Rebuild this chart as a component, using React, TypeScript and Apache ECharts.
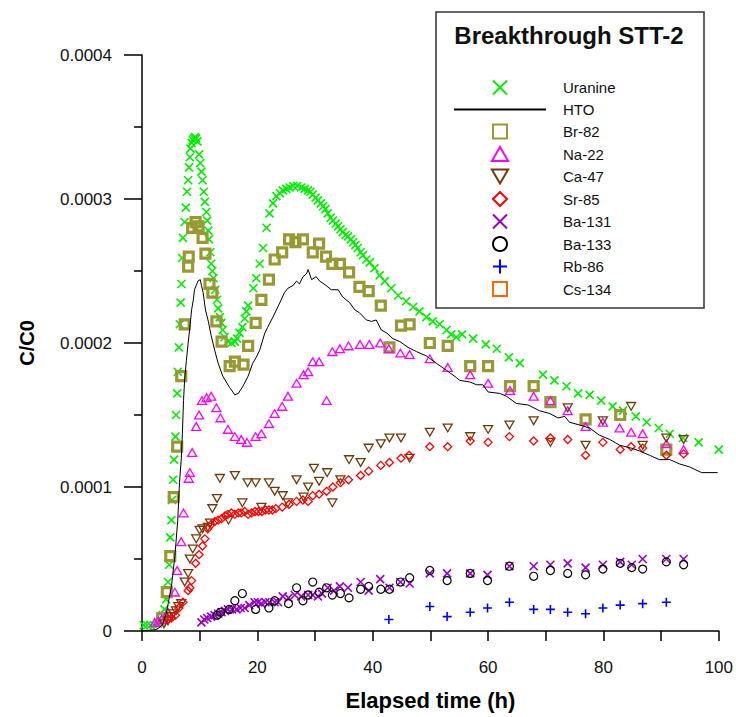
import React, { useEffect, useRef } from "react";
import * as echarts from "echarts";

// Elapsed time (h) and C/C0 in units of 1e-4
const uranine: [number, number][] = [
  [0.3, 0.04], [0.9, 0.04], [1.5, 0.04], [2.1, 0.04], [2.7, 0.05], [3.2, 0.07],
  [3.6, 0.11], [3.9, 0.15], [4.2, 0.22], [4.5, 0.34], [4.7, 0.46], [4.9, 0.65], [5.1, 0.77],
  [5.2, 0.91], [5.4, 1.05], [5.55, 1.19], [5.8, 1.35], [5.9, 1.5], [6.1, 1.65], [6.2, 1.8],
  [6.4, 1.97], [6.55, 2.13], [6.7, 2.28], [6.83, 2.41], [6.95, 2.59], [7.1, 2.73], [7.4, 2.84],
  [7.6, 2.94], [7.8, 3.05], [8.0, 3.13], [8.15, 3.22], [8.3, 3.29], [8.4, 3.35], [8.6, 3.39],
  [8.8, 3.41], [9.0, 3.42], [9.2, 3.43], [9.4, 3.42], [9.6, 3.4],
  [9.9, 3.31], [10.1, 3.25], [10.3, 3.19], [10.5, 3.13], [10.7, 3.05], [10.9, 2.98], [11.15, 2.91],
  [11.3, 2.85], [11.5, 2.78], [11.6, 2.72], [11.85, 2.63], [12.0, 2.55], [12.2, 2.5], [12.4, 2.45],
  [12.7, 2.37], [13.0, 2.3], [13.2, 2.24], [13.5, 2.18], [13.75, 2.14], [14.0, 2.09], [14.3, 2.04],
  [14.9, 2.01], [15.5, 2.0], [16.1, 2.01], [16.5, 2.03], [16.9, 2.07], [17.4, 2.11], [17.8, 2.17],
  [18.1, 2.22], [18.4, 2.26], [19.3, 2.38], [19.8, 2.45], [20.4, 2.55], [21.0, 2.66], [21.6, 2.8],
  [22.1, 2.9], [22.7, 2.97], [23.3, 3.02], [23.9, 3.04], [24.4, 3.06], [25.0, 3.07], [25.6, 3.08],
  [26.2, 3.09], [26.9, 3.09], [27.6, 3.08], [28.2, 3.07], [28.8, 3.06], [29.2, 3.05], [29.6, 3.03],
  [30.1, 3.01], [30.5, 2.99], [31.0, 2.97], [31.4, 2.95], [31.8, 2.93], [32.2, 2.9], [32.7, 2.87],
  [33.1, 2.85], [33.6, 2.83], [34.0, 2.81], [34.4, 2.79], [34.8, 2.77], [35.3, 2.75], [35.7, 2.74],
  [36.2, 2.72], [36.6, 2.7], [37.0, 2.68], [37.4, 2.66], [37.9, 2.63], [38.3, 2.61], [38.9, 2.58],
  [39.5, 2.56], [40.3, 2.52], [41.2, 2.47], [42.1, 2.43], [43.2, 2.38], [44.4, 2.33], [45.8, 2.29],
  [47.0, 2.25], [48.1, 2.22], [49.3, 2.18], [50.4, 2.15], [51.6, 2.13], [52.8, 2.09], [53.6, 2.06],
  [54.5, 2.04], [55.5, 2.06], [57.4, 2.03], [59.6, 1.99], [61.5, 1.96], [63.6, 1.9], [65.5, 1.86],
  [69.5, 1.78], [71.5, 1.74], [73.6, 1.7], [75.6, 1.65], [77.6, 1.64], [79.6, 1.6], [81.6, 1.56],
  [83.4, 1.53], [85.6, 1.49], [87.5, 1.45], [89.6, 1.41], [91.5, 1.37], [93.8, 1.34], [96.5, 1.31],
  [100, 1.26],
];

const hto: [number, number][] = [
  [0, 0], [2.5, 0.01], [3.5, 0.04], [4.2, 0.12], [5.1, 0.31], [5.7, 0.52], [6.2, 0.77], [6.5, 1.03],
  [6.8, 1.19], [7.0, 1.37], [7.2, 1.6], [7.4, 1.75], [7.7, 1.88], [8.0, 2.0], [8.3, 2.11], [8.6, 2.23],
  [8.9, 2.3], [9.1, 2.37], [9.4, 2.4], [9.7, 2.43], [10.1, 2.44], [10.3, 2.4], [10.6, 2.35], [11.0, 2.23],
  [11.5, 2.15], [12.0, 2.05], [12.6, 1.95], [13.2, 1.86], [14.0, 1.77], [15.2, 1.69], [16.1, 1.64],
  [16.7, 1.65], [17.5, 1.7], [18.4, 1.77], [19.2, 1.86], [19.8, 1.9], [20.4, 1.95], [21.3, 2.07],
  [21.8, 2.11], [22.7, 2.18], [23.9, 2.28], [24.7, 2.35], [25.3, 2.38], [26.2, 2.4], [26.8, 2.43],
  [27.3, 2.41], [27.9, 2.46], [28.5, 2.48], [28.8, 2.51], [29.4, 2.44], [30.2, 2.46], [30.8, 2.43],
  [31.9, 2.4], [32.8, 2.37], [34.0, 2.37], [34.8, 2.32], [36.0, 2.28], [36.9, 2.23], [37.7, 2.21],
  [38.9, 2.16], [39.8, 2.15], [40.6, 2.16], [41.5, 2.09], [42.4, 2.07], [43.5, 2.03], [44.7, 2.01],
  [46.1, 1.97], [47.6, 1.94], [49.3, 1.91], [51.0, 1.86], [52.8, 1.81], [54.5, 1.76], [55.1, 1.74],
  [56.8, 1.73], [58.0, 1.71], [59.1, 1.71], [60.0, 1.66], [62.0, 1.65], [63.2, 1.63], [64.9, 1.58],
  [66.9, 1.57], [68.9, 1.53], [70.7, 1.51], [72.1, 1.48], [73.3, 1.49], [74.1, 1.45], [75.9, 1.43],
  [77.6, 1.41], [79.3, 1.36], [81.1, 1.33], [82.8, 1.29], [84.8, 1.27], [86.3, 1.25], [88.0, 1.22],
  [89.7, 1.19], [91.5, 1.19], [93.2, 1.16], [94.9, 1.14], [97.0, 1.1], [99.8, 1.1],
];

const br82: [number, number][] = [
  [3.5, 0.09], [4.3, 0.27], [4.9, 0.52], [5.5, 0.93], [6.1, 1.28], [6.8, 1.77], [7.4, 2.13], [8.0, 2.53],
  [8.1, 2.6], [8.7, 2.8], [9.3, 2.84], [9.8, 2.81], [10.5, 2.73], [11.0, 2.62], [11.7, 2.41], [12.2, 2.35],
  [12.9, 2.15], [13.8, 2.01], [15.2, 1.84], [16.1, 1.87], [17.6, 1.85], [18.4, 1.98], [19.7, 2.14],
  [20.7, 2.3], [22.0, 2.44], [23.0, 2.58], [24.3, 2.63], [25.5, 2.72], [26.6, 2.7], [27.9, 2.72],
  [29.6, 2.63], [30.7, 2.69], [31.9, 2.6], [33.0, 2.55], [34.3, 2.55], [35.9, 2.49], [37.7, 2.39],
  [39.3, 2.36], [41.4, 2.26], [42.9, 1.97], [44.9, 2.12], [46.4, 2.13], [49.9, 2.0], [53.0, 1.98],
  [56.9, 1.84], [60.0, 1.84], [63.8, 1.7], [67.9, 1.7], [70.8, 1.59], [76.9, 1.47], [82.9, 1.5],
  [90.9, 1.26],
];

const na22: [number, number][] = [
  [2.2, 0.06], [2.8, 0.07], [3.4, 0.08], [4.5, 0.13], [5.7, 0.27], [6.1, 0.42], [6.8, 0.62], [7.2, 0.82],
  [8.1, 1.06], [8.3, 1.1], [8.7, 1.24], [9.4, 1.42], [9.9, 1.5], [10.4, 1.6], [11.2, 1.62], [12.0, 1.63],
  [12.9, 1.55], [13.6, 1.48], [14.9, 1.4], [16.1, 1.35], [17.2, 1.33], [18.2, 1.31], [19.7, 1.35],
  [20.7, 1.37], [22.0, 1.44], [23.0, 1.51], [24.3, 1.56], [25.3, 1.63], [26.8, 1.72], [28.0, 1.78],
  [28.8, 1.8], [29.6, 1.87], [30.7, 1.87], [32.0, 1.6], [33.0, 1.94], [34.3, 1.96], [35.8, 1.98],
  [37.8, 1.99], [39.4, 1.99], [41.3, 2.0], [42.8, 1.96], [44.8, 1.93], [46.4, 1.92], [49.9, 1.89],
  [53.0, 1.83], [56.9, 1.78], [60.0, 1.72], [63.8, 1.67], [67.9, 1.63], [70.8, 1.6], [73.8, 1.53],
  [76.9, 1.42], [79.9, 1.45], [82.8, 1.41], [84.8, 1.38], [86.8, 1.37], [90.9, 1.3], [93.9, 1.26],
];

const ca47: [number, number][] = [
  [3.8, 0.05], [4.5, 0.07], [5.1, 0.1], [5.4, 0.12], [5.9, 0.14], [6.3, 0.17], [6.8, 0.19], [7.4, 0.34],
  [8.0, 0.4], [8.3, 0.5], [8.8, 0.57], [9.4, 0.64], [10.0, 0.7], [10.5, 0.71], [11.4, 0.72], [11.8, 0.75],
  [12.2, 0.85], [13.0, 0.92], [13.5, 1.06], [15.0, 0.77], [16.1, 1.08], [17.4, 0.89], [18.3, 1.03],
  [19.7, 1.03], [20.7, 0.86], [22.0, 1.03], [23.0, 0.97], [24.4, 0.94], [25.3, 0.89], [26.8, 1.05],
  [28.0, 0.93], [28.8, 1.0], [29.8, 1.13], [30.7, 1.04], [32.1, 1.1], [33.0, 0.89], [34.4, 1.05],
  [35.9, 1.19], [37.9, 1.17], [39.3, 1.27], [41.4, 1.3], [42.9, 1.34], [44.9, 1.34], [46.4, 1.2],
  [49.9, 1.38], [53.0, 1.41], [56.9, 1.35], [60.0, 1.4], [63.7, 1.43], [67.9, 1.46], [70.8, 1.31],
  [73.8, 1.55], [76.9, 1.29], [79.9, 1.46], [84.8, 1.56], [86.8, 1.29], [90.9, 1.34], [93.9, 1.33],
];

const sr85: [number, number][] = [
  [4.5, 0.08], [5.1, 0.09], [5.8, 0.11], [6.4, 0.16], [7.1, 0.2], [8.0, 0.28], [8.3, 0.3], [8.6, 0.35],
  [9.3, 0.47], [9.9, 0.53], [10.5, 0.59], [10.9, 0.64], [11.4, 0.71], [12.0, 0.74], [12.6, 0.76],
  [13.2, 0.77], [13.8, 0.78], [14.4, 0.8], [14.9, 0.81], [15.5, 0.82], [16.1, 0.81], [16.7, 0.82],
  [17.2, 0.82], [17.8, 0.83], [18.4, 0.81], [19.0, 0.82], [19.6, 0.83], [20.2, 0.83], [20.8, 0.83],
  [21.4, 0.84], [22.0, 0.84], [22.6, 0.84], [23.2, 0.85], [24.3, 0.86], [25.5, 0.88], [26.8, 0.9],
  [27.9, 0.91], [28.8, 0.9], [29.6, 0.94], [30.7, 0.95], [32.0, 0.97], [33.1, 1.0], [34.4, 1.03],
  [35.8, 1.05], [37.9, 1.08], [39.3, 1.11], [41.4, 1.15], [42.9, 1.17], [44.9, 1.2], [46.3, 1.22],
  [49.9, 1.28], [53.0, 1.28], [56.9, 1.32], [60.0, 1.31], [63.7, 1.35], [67.9, 1.32], [70.8, 1.34],
  [73.8, 1.33], [76.9, 1.22], [79.9, 1.31], [82.9, 1.26], [84.8, 1.28], [86.8, 1.27], [90.9, 1.22],
  [93.9, 1.23],
];

const ba131: [number, number][] = [
  [10.3, 0.06], [10.8, 0.08], [11.3, 0.09], [12.0, 0.1], [12.6, 0.11], [13.2, 0.12], [13.8, 0.13],
  [14.4, 0.14], [14.9, 0.15], [15.6, 0.15], [16.4, 0.15], [17.1, 0.16], [17.8, 0.16], [18.6, 0.18],
  [19.5, 0.2], [20.1, 0.2], [20.7, 0.19], [21.4, 0.2], [22.1, 0.2], [23.0, 0.2], [23.6, 0.2],
  [24.4, 0.24], [25.4, 0.23], [26.5, 0.25], [27.6, 0.24], [28.8, 0.25], [29.6, 0.25], [30.5, 0.24],
  [31.2, 0.26], [32.2, 0.3], [33.3, 0.28], [34.3, 0.31], [35.7, 0.3], [37.9, 0.34], [39.3, 0.28],
  [41.3, 0.36], [42.9, 0.3], [44.8, 0.34], [46.4, 0.33], [49.9, 0.4], [52.9, 0.4], [56.9, 0.4],
  [59.9, 0.39], [63.7, 0.45], [67.9, 0.45], [70.8, 0.46], [73.8, 0.47], [76.9, 0.44], [79.9, 0.46],
  [82.9, 0.48], [84.9, 0.46], [86.8, 0.5], [90.9, 0.5], [93.9, 0.5],
];

const ba133: [number, number][] = [
  [13.0, 0.11], [13.6, 0.13], [15.1, 0.15], [16.1, 0.21], [17.4, 0.26], [19.7, 0.15], [22.0, 0.16],
  [23.0, 0.21], [25.4, 0.19], [26.8, 0.3], [27.9, 0.21], [28.8, 0.25], [29.6, 0.34], [30.7, 0.27],
  [32.0, 0.3], [33.0, 0.25], [34.4, 0.26], [35.9, 0.23], [37.9, 0.29], [39.3, 0.31], [41.4, 0.29],
  [42.9, 0.29], [44.8, 0.34], [46.4, 0.37], [49.9, 0.42], [52.9, 0.35], [56.9, 0.4], [59.9, 0.35],
  [63.7, 0.45], [67.9, 0.38], [70.8, 0.42], [73.8, 0.4], [76.9, 0.39], [79.9, 0.43], [82.9, 0.47],
  [84.9, 0.44], [86.8, 0.43], [90.9, 0.48], [93.9, 0.46],
];

const rb86: [number, number][] = [
  [42.8, 0.08], [49.9, 0.17], [52.9, 0.1], [56.9, 0.13], [59.9, 0.16], [63.7, 0.2], [67.9, 0.15],
  [70.8, 0.15], [73.8, 0.13], [76.9, 0.12], [79.9, 0.16], [82.9, 0.18], [86.8, 0.19], [90.9, 0.2],
];

const cs134: [number, number][] = [];

const legendNames = ["Uranine", "HTO", "Br-82", "Na-22", "Ca-47", "Sr-85", "Ba-131", "Ba-133", "Rb-86", "Cs-134"];

const UNIT = 1e-4;
const FONT = "'Liberation Sans', Arial, sans-serif";

const X_SYM = "path://M0,0L10,10M10,0L0,10";
const PLUS_SYM = "path://M5,0L5,10M0,5L10,5";
const TRI_UP = "path://M5,0L10,8.6L0,8.6Z";
const TRI_DOWN = "path://M0,0L10,0L5,8.6Z";
const SQUARE = "path://M0,0L10,0L10,10L0,10Z";
const DIAMOND = "path://M5,0L10,5L5,10L0,5Z";
const CIRCLE = "circle";

const scale = (d: [number, number][]) => d.map(([t, v]) => [t, v * UNIT]);

function scatter(
  name: string,
  data: [number, number][],
  symbol: string,
  size: number,
  color: string,
  fillColor: string,
  borderWidth: number
) {
  return {
    name,
    type: "scatter",
    data: scale(data),
    symbol,
    symbolSize: size,
    symbolKeepAspect: true,
    itemStyle: { color: fillColor, borderColor: color, borderWidth, opacity: 1 },
    emphasis: { disabled: true },
  };
}

export default function App() {
  const ref = useRef<HTMLDivElement>(null);
  useEffect(() => {
    if (!ref.current) return;
    const chart = echarts.init(ref.current, undefined, { renderer: "svg" });
    const clear = "rgba(0,0,0,0)";
    const series: any[] = [
      scatter("Uranine", uranine, X_SYM, 8, "#00ee00", "#00ee00", 1.6),
      {
        name: "HTO",
        type: "line",
        data: scale(hto),
        symbol: "none",
        showSymbol: false,
        lineStyle: { color: "#000", width: 1 },
        itemStyle: { color: clear, borderWidth: 0 },
        emphasis: { disabled: true },
        z: 3,
      },
      scatter("Br-82", br82, SQUARE, 9, "#999933", clear, 3.2),
      scatter("Na-22", na22, TRI_UP, 9, "#ff00ff", clear, 1.3),
      scatter("Ca-47", ca47, TRI_DOWN, 9, "#703a08", clear, 1.3),
      scatter("Sr-85", sr85, DIAMOND, 8, "#ff0000", clear, 1.3),
      scatter("Ba-131", ba131, X_SYM, 8, "#9900cc", "#9900cc", 1.6),
      scatter("Ba-133", ba133, CIRCLE, 8, "#000000", clear, 1.2),
      scatter("Rb-86", rb86, PLUS_SYM, 9, "#0000ff", "#0000ff", 1.6),
      scatter("Cs-134", cs134, SQUARE, 9, "#ff6600", clear, 1.6),
    ];
    chart.setOption({
      animation: false,
      backgroundColor: "#fff",
      textStyle: { fontFamily: FONT },
      grid: { left: 142, right: 14, top: 55, bottom: 86, containLabel: false },
      xAxis: {
        type: "value",
        min: 0,
        max: 100,
        interval: 10,
        name: "Elapsed time (h)",
        nameLocation: "middle",
        nameGap: 58,
        nameTextStyle: { fontFamily: FONT, fontWeight: "bold", fontSize: 22, color: "#000" },
        axisLine: { show: true, lineStyle: { color: "#000", width: 1.5 } },
        axisTick: { show: true, length: 10, lineStyle: { color: "#000", width: 1.5 } },
        axisLabel: {
          margin: 28,
          fontSize: 17,
          color: "#111",
          fontFamily: FONT,
          formatter: (v: number) => (v % 20 === 0 ? String(v) : ""),
        },
        splitLine: { show: false },
      },
      yAxis: {
        type: "value",
        min: 0,
        max: 4 * UNIT,
        interval: UNIT,
        name: "C/C0",
        nameLocation: "middle",
        nameRotate: 90,
        nameGap: 105,
        nameTextStyle: { fontFamily: FONT, fontWeight: "bold", fontSize: 20, color: "#000" },
        axisLine: { show: true, lineStyle: { color: "#000", width: 1.5 } },
        axisTick: { show: true, length: 18, lineStyle: { color: "#000", width: 1.5 } },
        minorTick: { show: true, splitNumber: 2, length: 8, lineStyle: { color: "#000", width: 1.5 } },
        axisLabel: {
          margin: 30,
          fontSize: 17,
          color: "#111",
          fontFamily: FONT,
          formatter: (v: number) => (v === 0 ? "0" : v.toFixed(4)),
        },
        splitLine: { show: false },
      },
      legend: {
        orient: "vertical",
        left: 448,
        top: 74.5,
        itemWidth: 92,
        itemHeight: 14,
        itemGap: 6.5,
        selectedMode: false,
        z: 10,
        textStyle: {
          fontFamily: FONT,
          fontSize: 15,
          color: "#111",
          padding: [0, 0, 0, 12],
        },
        data: legendNames,
      },
      graphic: [
        {
          type: "rect",
          z: 8,
          shape: { x: 436, y: 12, width: 268, height: 296 },
          style: { fill: "#fff", stroke: "#333", lineWidth: 1.5 },
        },
        {
          type: "text",
          z: 11,
          x: 569,
          y: 35,
          style: {
            text: "Breakthrough STT-2",
            fontFamily: FONT,
            fontWeight: "bold",
            fontSize: 24,
            fill: "#111",
            align: "center",
            verticalAlign: "middle",
          },
        },
      ],
      series,
    });
    return () => chart.dispose();
  }, []);
  return <div ref={ref} style={{ width: 736, height: 717, position: "absolute", left: 0, top: 0 }} />;
}
